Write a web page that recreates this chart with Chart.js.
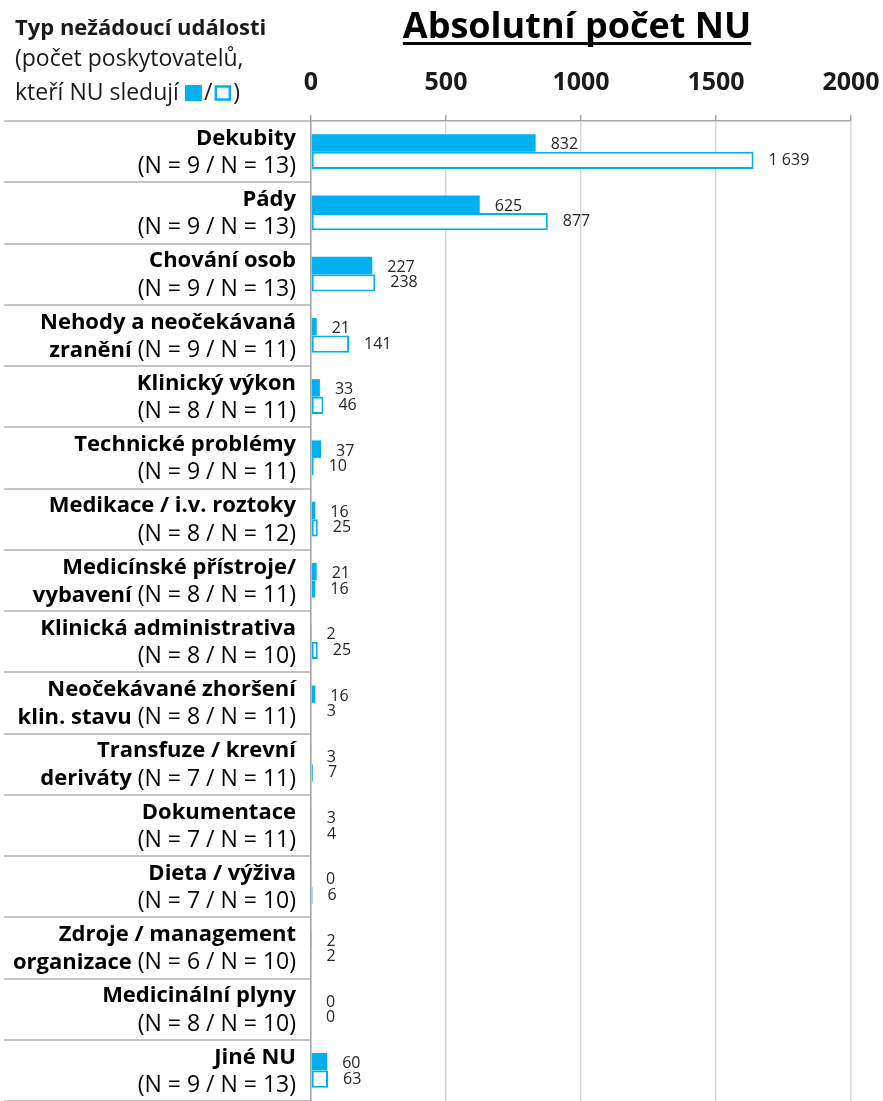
<!DOCTYPE html>
<html>
<head>
<meta charset="utf-8">
<script src="https://cdn.jsdelivr.net/npm/chart.js@4.4.0/dist/chart.umd.min.js"></script>
<style>
  html, body { margin: 0; padding: 0; background: #fff; }
  #wrap { width: 883px; height: 1101px; position: relative; }
</style>
</head>
<body>
<div id="wrap"><canvas id="chart"></canvas></div>
<script>
// ── DATA ──
const categoryNames = [
    ['Dekubity'],
    ['Pády'],
    ['Chování osob'],
    ['Nehody a neočekávaná', 'zranění'],
    ['Klinický výkon'],
    ['Technické problémy'],
    ['Medikace / i.v. roztoky'],
    ['Medicínské přístroje/', 'vybavení'],
    ['Klinická administrativa'],
    ['Neočekávané zhoršení', 'klin. stavu'],
    ['Transfuze / krevní', 'deriváty'],
    ['Dokumentace'],
    ['Dieta / výživa'],
    ['Zdroje / management', 'organizace'],
    ['Medicinální plyny'],
    ['Jiné NU']
];
const providersFilled  = [9, 9, 9, 9, 8, 9, 8, 8, 8, 8, 7, 7, 7, 6, 8, 9];
const providersOutline = [13, 13, 13, 11, 11, 11, 12, 11, 10, 11, 11, 11, 10, 10, 10, 13];
const countsFilled  = [832, 625, 227, 21, 33, 37, 16, 21, 2, 16, 3, 3, 0, 2, 0, 60];
const countsOutline = [1639, 877, 238, 141, 46, 10, 25, 16, 25, 3, 7, 4, 6, 2, 0, 63];
const xTicks = [0, 500, 1000, 1500, 2000];

const chartTitle = 'Absolutní počet NU';
const headerLines = ['Typ nežádoucí události', '(počet poskytovatelů,', 'kteří NU sledují '];

const BLUE = '#00B0F0';
const FONT = '"Open Sans", sans-serif';

const fmt = v => String(v).replace(/\B(?=(\d{3})+(?!\d))/g, ' ');

// ── text drawn around the plot ──
const textPlugin = {
    id: 'textPlugin',
    afterDraw(chart) {
        const ctx = chart.ctx;
        const y = chart.scales.y;
        ctx.save();

        // title, underlined
        ctx.fillStyle = '#000';
        ctx.font = `bold 36px ${FONT}`;
        ctx.textAlign = 'center';
        ctx.textBaseline = 'alphabetic';
        const tx = 577;
        ctx.fillText(chartTitle, tx, 38);
        const tw = ctx.measureText(chartTitle).width;
        ctx.fillRect(tx - tw / 2, 42, tw, 3);

        // header top left
        ctx.textAlign = 'left';
        ctx.fillStyle = '#1a1a1a';
        ctx.font = `bold 22px ${FONT}`;
        ctx.fillText(headerLines[0], 15, 35);
        ctx.font = `23px ${FONT}`;
        ctx.fillText(headerLines[1], 15, 66);
        ctx.fillText(headerLines[2], 15, 100);
        let hx = 15 + ctx.measureText(headerLines[2]).width;
        ctx.fillStyle = BLUE;
        ctx.fillRect(hx, 85, 17, 16);
        hx += 19;
        ctx.fillStyle = '#1a1a1a';
        ctx.fillText('/', hx, 100);
        hx += ctx.measureText('/').width + 2;
        ctx.strokeStyle = BLUE;
        ctx.lineWidth = 2.5;
        ctx.strokeRect(hx + 1.5, 86.5, 14, 13);
        hx += 19;
        ctx.fillStyle = '#1a1a1a';
        ctx.fillText(')', hx, 100);

        // category labels
        const right = 296;
        ctx.textAlign = 'right';
        ctx.textBaseline = 'middle';
        ctx.fillStyle = '#000';
        categoryNames.forEach((name, i) => {
            const cy = y.getPixelForValue(i);
            const nText = `(N = ${providersFilled[i]} / N = ${providersOutline[i]})`;
            ctx.font = `bold 22px ${FONT}`;
            ctx.fillText(name[0], right, cy - 13);
            ctx.font = `23px ${FONT}`;
            if (name.length === 1) {
                ctx.fillText(nText, right, cy + 15);
            } else {
                const reg = ' ' + nText;
                const rw = ctx.measureText(reg).width;
                ctx.fillText(reg, right, cy + 15);
                ctx.font = `bold 22px ${FONT}`;
                ctx.fillText(name[1], right - rw, cy + 15);
            }
        });
        ctx.restore();
    }
};

// ── value labels next to bars ──
const valuePlugin = {
    id: 'valuePlugin',
    afterDatasetsDraw(chart) {
        const ctx = chart.ctx;
        ctx.save();
        ctx.font = `16px ${FONT}`;
        ctx.fillStyle = '#262626';
        ctx.textAlign = 'left';
        ctx.textBaseline = 'middle';
        chart.data.datasets.forEach((ds, di) => {
            chart.getDatasetMeta(di).data.forEach((bar, i) => {
                ctx.fillText(fmt(ds.data[i]), bar.x + 15, bar.y + (di === 0 ? 2 : 0));
            });
        });
        ctx.restore();
    }
};

new Chart(document.getElementById('chart'), {
    type: 'bar',
    data: {
        labels: categoryNames.map(n => n.join(' ')),
        datasets: [
            {
                label: 'filled',
                data: countsFilled,
                backgroundColor: BLUE,
                borderWidth: 0,
                categoryPercentage: 0.57,
                barPercentage: 1.0
            },
            {
                label: 'outline',
                data: countsOutline,
                backgroundColor: '#fff',
                borderColor: BLUE,
                borderWidth: 2,
                borderSkipped: false,
                categoryPercentage: 0.57,
                barPercentage: 1.0
            }
        ]
    },
    options: {
        indexAxis: 'y',
        responsive: true,
        maintainAspectRatio: false,
        animation: false,
        layout: { padding: { top: 51, left: 4, right: 32, bottom: 0 } },
        scales: {
            x: {
                position: 'top',
                min: 0,
                max: 2000,
                afterBuildTicks: s => { s.ticks = xTicks.map(v => ({ value: v })); },
                afterFit: s => { s.paddingLeft = 0; s.paddingRight = 0; },
                ticks: {
                    font: { family: FONT, size: 25, weight: 'bold' },
                    color: '#1a1a1a',
                    padding: 17,
                    callback: v => v
                },
                grid: { color: '#d9d9d9', lineWidth: 1.5, tickColor: '#a6a6a6', tickLength: 6 },
                border: { color: '#a6a6a6', width: 1.5 }
            },
            y: {
                ticks: { display: false },
                grid: {
                    offset: true,
                    drawOnChartArea: false,
                    tickLength: 307,
                    tickColor: '#c4c4c4',
                    lineWidth: 2
                },
                border: { color: '#a6a6a6', width: 1.5 }
            }
        },
        plugins: {
            legend: { display: false },
            tooltip: { enabled: false }
        }
    },
    plugins: [textPlugin, valuePlugin]
});
</script>
</body>
</html>
